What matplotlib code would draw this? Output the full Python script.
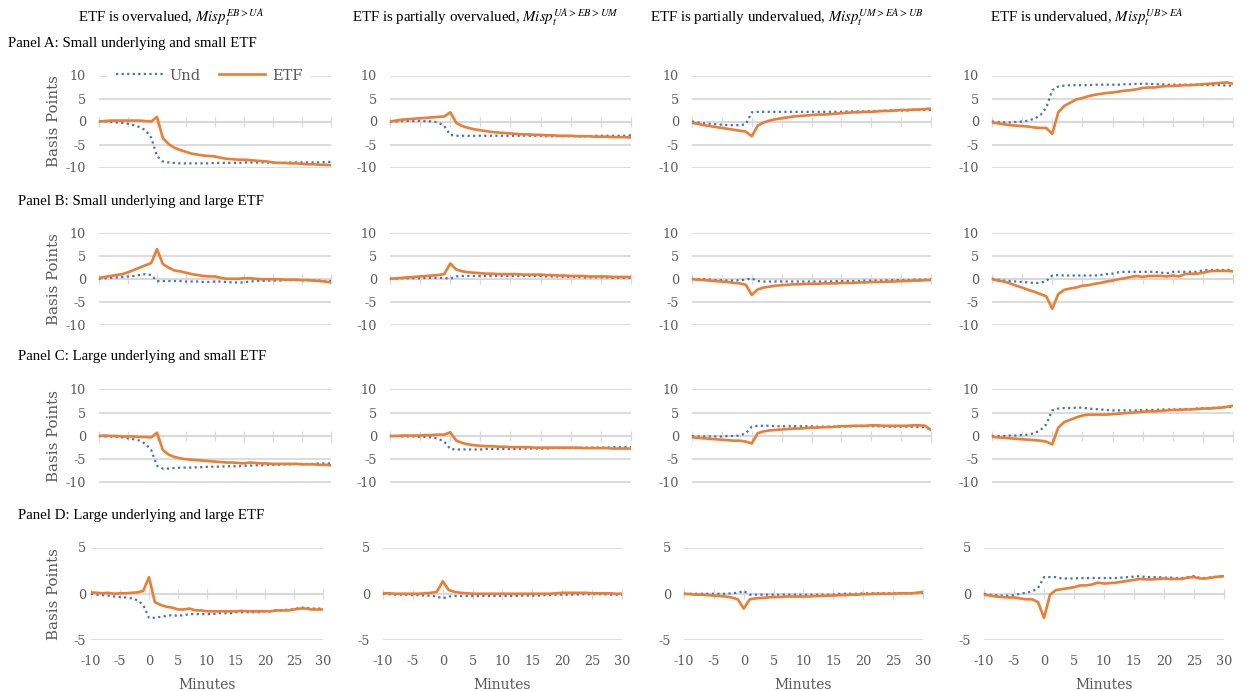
import matplotlib
matplotlib.use("Agg")
import matplotlib.pyplot as plt

# ---------------------------------------------------------------- data
minutes = list(range(-10, 31))
xticks = [-10, -5, 0, 5, 10, 15, 20, 25, 30]

col_prefix = ["ETF is overvalued, ", "ETF is partially overvalued, ",
              "ETF is partially undervalued, ", "ETF is undervalued, "]
col_sup = ["EB>UA", "UA>EB>UM", "UM>EA>UB", "UB>EA"]
panel_titles = ["Panel A: Small underlying and small ETF",
                "Panel B: Small underlying and large ETF",
                "Panel C: Large underlying and small ETF",
                "Panel D: Large underlying and large ETF"]
series_names = ["Und", "ETF"]

# Panel A: small underlying, small ETF
und_a1 = [0.0, 0.0, -0.1, -0.2, -0.3, -0.5, -0.8, -1.2, -1.9, -3.5, -7.5,
          -8.7, -8.9, -9.0, -9.1, -9.1, -9.1, -9.1, -9.1, -9.1, -9.0,
          -9.0, -9.0, -9.0, -9.0, -8.9, -8.9, -8.9, -8.9, -8.9, -9.0,
          -9.0, -9.0, -8.9, -8.9, -8.9, -8.9, -8.9, -8.9, -8.8, -8.8]
etf_a1 = [0.0, 0.1, 0.2, 0.2, 0.2, 0.2, 0.2, 0.2, 0.1, 0.0, 1.0,
          -3.6, -4.9, -5.7, -6.2, -6.6, -7.0, -7.2, -7.4, -7.5, -7.6,
          -7.9, -8.1, -8.2, -8.3, -8.3, -8.4, -8.5, -8.6, -8.7, -8.9,
          -9.0, -9.0, -9.1, -9.1, -9.2, -9.3, -9.3, -9.4, -9.4, -9.5]
und_a2 = [0.0, 0.0, 0.1, 0.1, 0.1, 0.1, 0.1, 0.0, -0.2, -1.0, -2.9,
          -3.1, -3.1, -3.1, -3.1, -3.1, -3.1, -3.1, -3.1, -3.1, -3.1,
          -3.1, -3.1, -3.1, -3.1, -3.1, -3.2, -3.2, -3.2, -3.2, -3.2,
          -3.2, -3.2, -3.2, -3.1, -3.1, -3.1, -3.1, -3.1, -3.1, -3.0]
etf_a2 = [0.0, 0.2, 0.4, 0.5, 0.6, 0.7, 0.8, 0.9, 1.0, 1.1, 2.0,
          -0.3, -1.0, -1.4, -1.7, -1.9, -2.1, -2.3, -2.4, -2.5, -2.6,
          -2.7, -2.8, -2.8, -2.9, -2.9, -3.0, -3.0, -3.1, -3.1, -3.1,
          -3.2, -3.2, -3.2, -3.3, -3.3, -3.3, -3.4, -3.4, -3.4, -3.5]
und_a3 = [0.0, -0.2, -0.4, -0.5, -0.6, -0.7, -0.8, -0.8, -0.8, -0.6, 2.0,
          2.1, 2.1, 2.1, 2.1, 2.1, 2.1, 2.1, 2.1, 2.1, 2.1,
          2.1, 2.1, 2.1, 2.1, 2.1, 2.2, 2.2, 2.2, 2.2, 2.3,
          2.3, 2.3, 2.4, 2.4, 2.4, 2.4, 2.5, 2.5, 2.5, 2.5]
etf_a3 = [-0.3, -0.5, -0.8, -1.0, -1.2, -1.4, -1.6, -1.8, -2.0, -2.2, -3.2,
          -0.9, -0.2, 0.2, 0.5, 0.7, 0.9, 1.1, 1.2, 1.3, 1.4,
          1.5, 1.5, 1.6, 1.7, 1.8, 1.9, 2.0, 2.0, 2.1, 2.1,
          2.2, 2.3, 2.3, 2.4, 2.5, 2.5, 2.6, 2.6, 2.7, 2.8]
und_a4 = [0.0, -0.1, -0.2, -0.2, -0.1, 0.0, 0.2, 0.6, 1.3, 3.0, 6.8,
          7.6, 7.8, 7.9, 7.9, 7.9, 7.9, 8.0, 8.0, 8.0, 8.0,
          8.0, 8.1, 8.1, 8.2, 8.2, 8.2, 8.1, 8.1, 8.0, 8.0,
          8.0, 8.0, 8.0, 8.0, 7.9, 7.9, 7.9, 7.9, 7.8, 7.8]
etf_a4 = [-0.2, -0.4, -0.6, -0.8, -0.9, -1.0, -1.1, -1.3, -1.4, -1.4, -2.7,
          2.0, 3.4, 4.1, 4.8, 5.1, 5.5, 5.8, 6.0, 6.2, 6.3,
          6.5, 6.7, 6.8, 7.0, 7.3, 7.4, 7.4, 7.6, 7.7, 7.7,
          7.8, 7.9, 7.9, 8.0, 8.1, 8.2, 8.3, 8.4, 8.5, 8.2]

# Panel B: small underlying, large ETF
und_b1 = [0.0, 0.1, 0.2, 0.3, 0.4, 0.5, 0.6, 0.8, 1.0, 0.8, -0.5,
          -0.5, -0.5, -0.5, -0.5, -0.6, -0.6, -0.6, -0.7, -0.7, -0.6,
          -0.6, -0.7, -0.8, -0.8, -0.8, -0.6, -0.5, -0.5, -0.4, -0.4,
          -0.4, -0.3, -0.3, -0.3, -0.3, -0.3, -0.4, -0.4, -0.5, -0.5]
etf_b1 = [0.2, 0.4, 0.6, 0.8, 1.0, 1.4, 1.9, 2.4, 2.9, 3.4, 6.4,
          3.2, 2.4, 1.8, 1.6, 1.3, 1.0, 0.8, 0.6, 0.5, 0.5,
          0.2, 0.0, 0.0, 0.0, 0.1, 0.1, 0.0, -0.1, -0.1, -0.1,
          -0.1, -0.2, -0.2, -0.2, -0.3, -0.3, -0.4, -0.5, -0.6, -0.8]
und_b2 = [0.0, 0.0, 0.1, 0.1, 0.1, 0.1, 0.2, 0.2, 0.2, 0.2, 0.0,
          0.5, 0.6, 0.6, 0.6, 0.6, 0.6, 0.6, 0.6, 0.6, 0.6,
          0.6, 0.6, 0.6, 0.6, 0.6, 0.5, 0.5, 0.5, 0.4, 0.4,
          0.4, 0.3, 0.3, 0.3, 0.3, 0.3, 0.2, 0.2, 0.2, 0.2]
etf_b2 = [0.0, 0.1, 0.2, 0.3, 0.4, 0.5, 0.6, 0.7, 0.8, 1.0, 3.3,
          2.0, 1.6, 1.4, 1.3, 1.2, 1.1, 1.1, 1.0, 1.0, 1.0,
          1.0, 0.9, 0.9, 0.9, 0.9, 0.8, 0.8, 0.7, 0.7, 0.6,
          0.6, 0.6, 0.5, 0.5, 0.5, 0.5, 0.4, 0.4, 0.4, 0.4]
und_b3 = [0.0, -0.1, -0.1, -0.2, -0.3, -0.3, -0.4, -0.4, -0.3, -0.2, 0.1,
          -0.5, -0.6, -0.6, -0.6, -0.6, -0.6, -0.6, -0.6, -0.6, -0.6,
          -0.6, -0.6, -0.6, -0.5, -0.5, -0.5, -0.5, -0.5, -0.4, -0.4,
          -0.4, -0.4, -0.3, -0.3, -0.3, -0.3, -0.2, -0.2, -0.2, -0.1]
etf_b3 = [-0.1, -0.2, -0.3, -0.4, -0.5, -0.6, -0.7, -0.9, -1.0, -1.3, -3.5,
          -2.3, -1.9, -1.7, -1.5, -1.4, -1.3, -1.2, -1.2, -1.1, -1.1,
          -1.1, -1.0, -1.0, -1.0, -0.9, -0.9, -0.9, -0.8, -0.8, -0.7,
          -0.7, -0.7, -0.6, -0.6, -0.5, -0.5, -0.4, -0.4, -0.3, -0.3]
und_b4 = [0.0, -0.2, -0.4, -0.5, -0.6, -0.7, -0.8, -0.9, -0.9, -0.5, 0.7,
          0.8, 0.7, 0.7, 0.7, 0.7, 0.7, 0.7, 0.8, 1.0, 1.1,
          1.4, 1.5, 1.5, 1.5, 1.5, 1.5, 1.5, 1.3, 1.2, 1.5,
          1.5, 1.5, 1.5, 1.5, 1.8, 1.9, 1.9, 1.9, 1.9, 1.9]
etf_b4 = [-0.1, -0.4, -0.6, -1.0, -1.5, -1.9, -2.4, -2.8, -3.3, -3.8, -6.5,
          -3.3, -2.4, -2.1, -1.9, -1.5, -1.4, -1.1, -0.9, -0.6, -0.4,
          -0.1, 0.1, 0.4, 0.6, 0.4, 0.6, 0.6, 0.6, 0.5, 0.7,
          0.5, 1.0, 1.1, 1.1, 1.3, 1.6, 1.7, 1.7, 1.7, 1.6]

# Panel C: large underlying, small ETF
und_c1 = [0.0, -0.1, -0.1, -0.2, -0.3, -0.5, -0.7, -1.0, -1.7, -3.0, -6.4,
          -7.0, -7.0, -6.9, -6.8, -6.8, -6.8, -6.7, -6.7, -6.6, -6.6,
          -6.6, -6.5, -6.5, -6.5, -6.4, -6.4, -6.3, -6.3, -6.2, -6.2,
          -6.2, -6.1, -6.1, -6.0, -6.0, -6.0, -6.0, -5.9, -5.9, -5.9]
etf_c1 = [0.0, 0.1, 0.0, 0.0, -0.1, -0.1, -0.1, -0.2, -0.2, -0.3, 0.7,
          -3.0, -4.0, -4.5, -4.8, -5.0, -5.1, -5.2, -5.3, -5.4, -5.5,
          -5.6, -5.7, -5.7, -5.8, -5.9, -5.7, -5.8, -5.9, -5.9, -6.0,
          -6.0, -6.0, -6.0, -6.0, -6.1, -6.1, -6.1, -6.2, -6.2, -6.3]
und_c2 = [0.0, 0.0, -0.1, -0.1, -0.1, -0.2, -0.2, -0.3, -0.6, -1.2, -2.8,
          -2.9, -2.9, -2.9, -2.9, -2.9, -2.8, -2.8, -2.8, -2.8, -2.8,
          -2.8, -2.7, -2.7, -2.7, -2.7, -2.7, -2.6, -2.6, -2.6, -2.6,
          -2.6, -2.5, -2.5, -2.5, -2.5, -2.5, -2.4, -2.4, -2.4, -2.4]
etf_c2 = [0.0, 0.0, 0.1, 0.1, 0.1, 0.1, 0.2, 0.2, 0.3, 0.3, 0.8,
          -1.0, -1.5, -1.8, -2.0, -2.1, -2.2, -2.2, -2.3, -2.3, -2.4,
          -2.4, -2.4, -2.4, -2.5, -2.5, -2.5, -2.5, -2.5, -2.5, -2.5,
          -2.5, -2.6, -2.6, -2.6, -2.6, -2.6, -2.7, -2.7, -2.7, -2.7]
und_c3 = [0.0, -0.1, -0.1, -0.1, -0.1, -0.1, 0.0, 0.0, 0.1, 0.6, 2.0,
          2.2, 2.2, 2.2, 2.1, 2.1, 2.1, 2.1, 2.1, 2.1, 2.1,
          2.0, 2.0, 2.0, 2.0, 2.0, 2.1, 2.1, 2.1, 2.1, 2.1,
          2.1, 2.0, 2.0, 2.0, 2.0, 2.0, 2.0, 1.9, 1.9, 1.4]
etf_c3 = [-0.3, -0.4, -0.5, -0.6, -0.7, -0.8, -0.9, -1.0, -1.0, -1.2, -1.6,
          0.6, 1.0, 1.2, 1.3, 1.4, 1.5, 1.6, 1.6, 1.7, 1.8,
          1.8, 1.9, 1.9, 2.0, 2.1, 2.1, 2.2, 2.2, 2.2, 2.3,
          2.3, 2.2, 2.2, 2.2, 2.2, 2.2, 2.3, 2.3, 2.2, 1.3]
und_c4 = [0.0, 0.0, 0.0, 0.1, 0.1, 0.2, 0.3, 0.6, 1.2, 2.5, 5.5,
          5.9, 6.0, 6.0, 6.1, 6.1, 5.9, 5.8, 5.7, 5.6, 5.5,
          5.5, 5.5, 5.5, 5.5, 5.6, 5.6, 5.6, 5.7, 5.7, 5.7,
          5.7, 5.8, 5.8, 5.9, 6.0, 6.0, 6.1, 6.1, 6.2, 6.3]
etf_c4 = [-0.2, -0.3, -0.4, -0.5, -0.6, -0.7, -0.8, -0.9, -1.0, -1.2, -1.8,
          1.8, 3.0, 3.5, 4.0, 4.4, 4.6, 4.6, 4.6, 4.6, 4.7,
          4.8, 4.9, 5.0, 5.1, 5.2, 5.3, 5.3, 5.4, 5.5, 5.6,
          5.6, 5.7, 5.7, 5.8, 5.9, 5.9, 6.0, 6.1, 6.3, 6.5]

# Panel D: large underlying, large ETF
und_d1 = [0.0, -0.1, -0.15, -0.2, -0.3, -0.35, -0.4, -0.5, -0.7, -1.2, -2.6,
          -2.6, -2.5, -2.4, -2.3, -2.4, -2.3, -2.2, -2.2, -2.2, -2.2,
          -2.2, -2.1, -2.1, -2.1, -2.0, -2.0, -2.0, -2.0, -2.0, -1.9,
          -1.9, -1.8, -1.8, -1.7, -1.7, -1.5, -1.5, -1.6, -1.6, -1.6]
etf_d1 = [0.15, 0.1, 0.05, 0.1, 0.0, 0.05, 0.05, 0.1, 0.15, 0.3, 1.8,
          -0.9, -1.2, -1.4, -1.5, -1.7, -1.7, -1.6, -1.8, -1.8, -1.9,
          -1.9, -1.9, -1.9, -1.9, -1.9, -1.85, -1.9, -1.9, -1.9, -1.9,
          -1.9, -1.8, -1.8, -1.8, -1.7, -1.6, -1.6, -1.7, -1.7, -1.7]
und_d2 = [0.0, -0.05, -0.1, -0.1, -0.1, -0.15, -0.15, -0.2, -0.2, -0.3, -0.5,
          -0.3, -0.25, -0.25, -0.25, -0.25, -0.25, -0.25, -0.25, -0.25, -0.25,
          -0.25, -0.25, -0.2, -0.2, -0.2, -0.2, -0.15, -0.15, -0.1, -0.1,
          -0.1, -0.1, -0.05, -0.05, -0.05, -0.05, -0.05, -0.1, -0.1, -0.1]
etf_d2 = [0.05, 0.05, 0.0, 0.0, 0.0, 0.0, 0.0, 0.05, 0.1, 0.2, 1.35,
          0.4, 0.2, 0.1, 0.05, 0.0, 0.0, 0.0, 0.0, 0.0, 0.0,
          0.0, 0.0, 0.0, 0.0, 0.0, 0.0, 0.0, 0.0, 0.05, 0.1,
          0.1, 0.1, 0.1, 0.1, 0.05, 0.05, 0.05, 0.05, 0.0, 0.0]
und_d3 = [0.0, 0.0, 0.0, 0.0, 0.0, 0.0, 0.0, 0.0, 0.05, 0.1, 0.3,
          -0.1, -0.1, -0.1, -0.1, -0.1, -0.1, -0.1, -0.1, -0.1, -0.1,
          -0.1, -0.1, -0.1, -0.1, -0.1, 0.0, 0.0, 0.0, 0.0, 0.05,
          0.05, 0.05, 0.05, 0.05, 0.05, 0.05, 0.05, 0.05, 0.1, 0.1]
etf_d3 = [0.0, -0.05, -0.1, -0.1, -0.15, -0.2, -0.25, -0.3, -0.4, -0.6, -1.6,
          -0.6, -0.5, -0.45, -0.4, -0.35, -0.35, -0.3, -0.3, -0.3, -0.3,
          -0.3, -0.25, -0.25, -0.2, -0.2, -0.15, -0.15, -0.1, -0.1, -0.05,
          -0.05, 0.0, 0.0, 0.0, 0.0, 0.05, 0.05, 0.05, 0.1, 0.2]
und_d4 = [0.0, -0.1, -0.15, -0.2, -0.2, -0.15, 0.0, 0.1, 0.25, 0.6, 1.8,
          1.8, 1.8, 1.65, 1.65, 1.65, 1.7, 1.7, 1.7, 1.7, 1.7,
          1.7, 1.7, 1.75, 1.8, 1.85, 1.9, 1.8, 1.8, 1.8, 1.75,
          1.75, 1.7, 1.7, 1.8, 1.9, 1.7, 1.7, 1.8, 1.85, 1.9]
etf_d4 = [-0.1, -0.2, -0.3, -0.35, -0.4, -0.4, -0.5, -0.6, -0.6, -0.9, -2.6,
          -0.1, 0.4, 0.5, 0.6, 0.7, 0.9, 0.9, 1.0, 1.2, 1.1,
          1.15, 1.2, 1.3, 1.4, 1.5, 1.6, 1.55, 1.55, 1.6, 1.65,
          1.6, 1.6, 1.6, 1.75, 1.8, 1.65, 1.65, 1.75, 1.85, 1.9]

und_rows = [[und_a1, und_a2, und_a3, und_a4],
            [und_b1, und_b2, und_b3, und_b4],
            [und_c1, und_c2, und_c3, und_c4],
            [und_d1, und_d2, und_d3, und_d4]]
etf_rows = [[etf_a1, etf_a2, etf_a3, etf_a4],
            [etf_b1, etf_b2, etf_b3, etf_b4],
            [etf_c1, etf_c2, etf_c3, etf_c4],
            [etf_d1, etf_d2, etf_d3, etf_d4]]

# ---------------------------------------------------------------- style
plt.rcParams["axes.unicode_minus"] = False
plt.rcParams["mathtext.fontset"] = "stix"

W, H = 1244, 691
BLUE = "#4472C4"
ORANGE = "#ED7D31"
GRID = "#D9D9D9"
AXIS = "#D9D9D9"
LABEL = "#595959"
TICK_FONT = "DejaVu Serif"
TITLE_FONT = "Liberation Serif"

fig = plt.figure(figsize=(W / 100, H / 100), dpi=100)
fig.patch.set_facecolor("white")

# frame geometry in pixels: (left, right) for each column, (top, bottom) for each row
cols_abc = [(99, 331), (390, 631), (692, 931), (992, 1233)]
cols_d = [(91, 323), (383, 622), (684, 923), (984, 1224)]
rows = [(75.5, 167.5), (232.5, 325), (389.5, 482.5), (547.5, 640)]


def add_px_axes(x0, x1, y0, y1):
    return fig.add_axes([x0 / W, 1 - y1 / H, (x1 - x0) / W, (y1 - y0) / H])


for r in range(4):
    is_d = (r == 3)
    for c in range(4):
        x0, x1 = (cols_d if is_d else cols_abc)[c]
        y0, y1 = rows[r]
        ax = add_px_axes(x0, x1, y0, y1)
        lim = 5 if is_d else 10
        ax.set_xlim(-10, 30)
        ax.set_ylim(-lim, lim)
        ax.set_yticks(list(range(-lim, lim + 1, 5)))
        ax.set_xticks(xticks)
        ax.set_axisbelow(True)
        ax.grid(axis="y", color=GRID, lw=1.3)
        ax.grid(axis="x", visible=False)
        for side in ("left", "right", "bottom"):
            ax.spines[side].set_visible(False)
        # horizontal axis crosses at zero, with cross-style tick marks
        ax.spines["top"].set_position(("data", 0))
        ax.spines["top"].set_color(AXIS)
        ax.spines["top"].set_linewidth(1.5)
        ax.tick_params(axis="x", bottom=False, top=True, direction="inout",
                       length=7.5, width=0.9, color=AXIS,
                       labeltop=False, labelbottom=is_d,
                       labelsize=9.2, labelcolor=LABEL, pad=7)
        ypad = 3.5 if (is_d and c == 0) else 9.5
        ax.tick_params(axis="y", length=0, labelsize=9.2,
                       labelcolor=LABEL, pad=ypad)
        for lab in ax.get_xticklabels() + ax.get_yticklabels():
            lab.set_fontfamily(TICK_FONT)

        ax.plot(minutes, und_rows[r][c], color=BLUE, lw=1.6,
                ls=(0, (1, 1.5)), label=series_names[0], zorder=3)
        ax.plot(minutes, etf_rows[r][c], color=ORANGE, lw=1.9,
                label=series_names[1], zorder=4, solid_joinstyle="round")

        if c == 0:
            ax.set_ylabel("Basis Points", family=TICK_FONT, fontsize=10.8,
                          color=LABEL)
            ax.yaxis.set_label_coords((61 - x0) / (x1 - x0), 0.5)
        if is_d:
            ax.set_xlabel("Minutes", family=TICK_FONT, fontsize=10,
                          color=LABEL, labelpad=7)

        if r == 0 and c == 0:
            leg = ax.legend(loc="center", ncols=2, mode="expand",
                            bbox_to_anchor=(0.035, 0.9, 0.88, 0.2),
                            frameon=True, facecolor="white",
                            edgecolor="none", framealpha=1, fancybox=False,
                            borderpad=0.6, handlelength=3.2,
                            handletextpad=0.45, borderaxespad=0,
                            prop={"family": TICK_FONT, "size": 10.5})
            for t in leg.get_texts():
                t.set_color(LABEL)

# column headings
col_left = [78, 352, 650, 990]
for c in range(4):
    fig.text(col_left[c] / W, 1 - 18 / H,
             col_prefix[c] + r"$Misp_t^{" + col_sup[c] + "}$",
             family=TITLE_FONT, fontsize=10.7, va="center", ha="left")

# panel headings
panel_xy = [(8, 44), (18, 201), (18, 357), (18, 516)]
for (px, py), text in zip(panel_xy, panel_titles):
    fig.text(px / W, 1 - py / H, text, family=TITLE_FONT, fontsize=10.7,
             va="center", ha="left")

fig.savefig("out.png", dpi=100, facecolor="white")
